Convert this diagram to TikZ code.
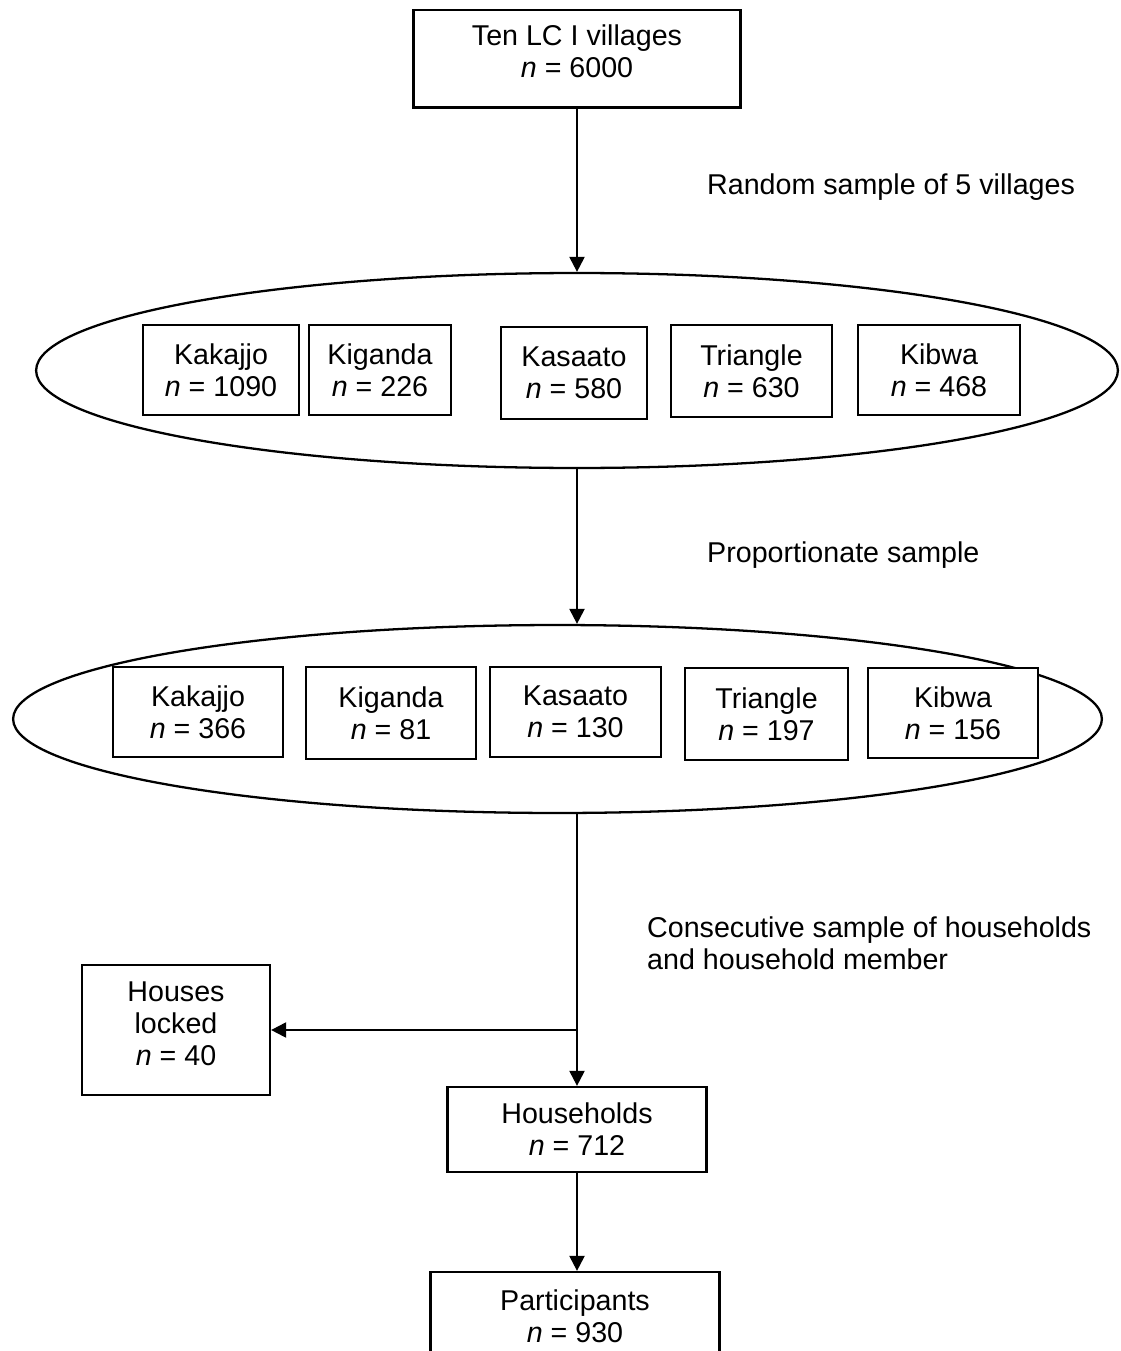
\documentclass[tikz,border=0pt]{standalone}
\usepackage{fontspec}
\setmainfont{Liberation Sans}
\usetikzlibrary{arrows.meta,shapes.geometric}

\begin{document}
\begin{tikzpicture}[x=0.02cm,y=-0.02cm,
  font=\fontsize{16.3}{18.2}\selectfont,
  >={Triangle[length=0.30cm,width=0.30cm]},
  box/.style={draw,fill=white,line width=1.3pt,align=center,inner sep=0pt},
  oval/.style={draw,ellipse,line width=1.3pt,inner sep=0pt},
  flow/.style={->,line width=1.25pt}]
\useasboundingbox (0,0) rectangle (1121,1351);

\node[box,line width=1.7pt,text depth=0.32cm,minimum width=6.56cm,minimum height=1.96cm] (ten) at (577,59) {Ten LC I villages\\\textit{n} = 6000};

% random sample of villages
\node[oval,minimum width=21.64cm,minimum height=3.90cm] (villages) at (577,370.5) {};
\node[box,minimum width=3.12cm,minimum height=1.80cm] (kak1) at (221,370) {Kakajjo\\\textit{n} = 1090};
\node[box,minimum width=2.84cm,minimum height=1.80cm] (kig1) at (380,370) {Kiganda\\\textit{n} = 226};
\node[box,minimum width=2.92cm,minimum height=1.84cm] (kas1) at (574,373) {Kasaato\\\textit{n} = 580};
\node[box,minimum width=3.22cm,minimum height=1.84cm] (tri1) at (751.5,371) {Triangle\\\textit{n} = 630};
\node[box,minimum width=3.24cm,minimum height=1.80cm] (kib1) at (939,370) {Kibwa\\\textit{n} = 468};

% proportionate sample
\node[oval,minimum width=21.78cm,minimum height=3.76cm] (sample) at (557.5,719) {};
\node[box,minimum width=3.40cm,minimum height=1.80cm] (kak2) at (198,712) {Kakajjo\\\textit{n} = 366};
\node[box,minimum width=3.40cm,minimum height=1.84cm] (kig2) at (391,713) {Kiganda\\\textit{n} = 81};
\node[box,minimum width=3.42cm,minimum height=1.80cm] (kas2) at (575.5,712) {Kasaato\\\textit{n} = 130};
\node[box,minimum width=3.26cm,minimum height=1.84cm] (tri2) at (766.5,714) {Triangle\\\textit{n} = 197};
\node[box,minimum width=3.40cm,minimum height=1.80cm] (kib2) at (953,713) {Kibwa\\\textit{n} = 156};

\node[box,text depth=0.24cm,minimum width=3.76cm,minimum height=2.60cm] (locked) at (176,1030) {Houses\\locked\\\textit{n} = 40};
\node[box,minimum width=5.18cm,minimum height=1.70cm] (house) at (577,1129.5) {Households\\\textit{n} = 712};
\node[box,minimum width=5.78cm,minimum height=1.76cm] (part) at (575,1316) {Participants\\\textit{n} = 930};

\node[anchor=west] (lab1) at (701,187) {Random sample of 5 villages};
\node[anchor=west] (lab2) at (701,555) {Proportionate sample};
\node[anchor=west,align=left] (lab3) at (641,943) {Consecutive sample of households\\and household member};

\draw[flow] (ten) -- (villages);
\draw[flow] (villages.south) -- (villages.south |- sample.north);
\draw[flow] (house.north |- sample.south) -- (house.north);
\draw[flow] (house.north |- locked.east) -- (locked.east);
\draw[flow] (house.south) -- (house.south |- part.north);
\end{tikzpicture}
\end{document}
